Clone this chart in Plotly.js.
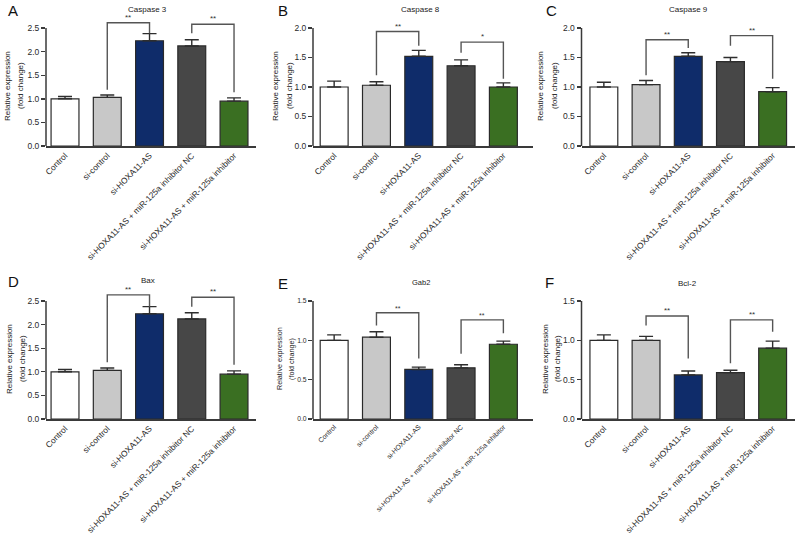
<!DOCTYPE html>
<html>
<head>
<meta charset="utf-8">
<script src="https://cdn.plot.ly/plotly-3.0.1.min.js"></script>
<style>html,body{margin:0;padding:0;background:#fff;}#chart{width:800px;height:538px;}</style>
</head>
<body>
<div id="chart"></div>
<script>
// ---------- data ----------
const categories = ['Control', 'si-control', 'si-HOXA11-AS', 'si-HOXA11-AS + miR-125a inhibitor NC', 'si-HOXA11-AS + miR-125a inhibitor'];
const barColors = ['#ffffff', '#c8c8c8', '#0f2c6a', '#474747', '#3a6f22'];
const panelLetters = ['A', 'B', 'C', 'D', 'E', 'F'];
const panelTitles = ['Caspase 3', 'Caspase 8', 'Caspase 9', 'Bax', 'Gab2', 'Bcl-2'];

const caspase3 = [1.00, 1.03, 2.23, 2.12, 0.95];
const caspase3Err = [0.05, 0.05, 0.15, 0.13, 0.07];
const caspase8 = [1.00, 1.03, 1.52, 1.36, 1.00];
const caspase8Err = [0.10, 0.06, 0.10, 0.10, 0.07];
const caspase9 = [1.00, 1.04, 1.52, 1.43, 0.92];
const caspase9Err = [0.08, 0.07, 0.06, 0.07, 0.07];
const bax = [1.00, 1.03, 2.23, 2.12, 0.95];
const baxErr = [0.05, 0.05, 0.15, 0.13, 0.07];
const gab2 = [1.00, 1.04, 0.63, 0.65, 0.95];
const gab2Err = [0.07, 0.07, 0.03, 0.04, 0.04];
const bcl2 = [1.00, 1.00, 0.56, 0.59, 0.90];
const bcl2Err = [0.07, 0.05, 0.05, 0.03, 0.09];

const yTopTicks = [2.5, 2.0, 2.0, 2.5, 1.5, 1.5];
const yTickStep = 0.5;

// brackets: [from index, to index, top, left leg bottom, right leg bottom, label]
const caspase3Brackets = [[1, 2, 2.61, 1.19, 2.39, '**'], [3, 4, 2.58, 2.39, 1.14, '**']];
const caspase8Brackets = [[1, 2, 1.94, 1.20, 1.70, '**'], [3, 4, 1.76, 1.58, 1.14, '*']];
const caspase9Brackets = [[1, 2, 1.80, 1.20, 1.66, '**'], [3, 4, 1.87, 1.70, 1.14, '**']];
const baxBrackets = [[1, 2, 2.63, 1.20, 2.38, '**'], [3, 4, 2.58, 2.38, 1.15, '**']];
const gab2Brackets = [[1, 2, 1.35, 1.19, 0.77, '**'], [3, 4, 1.26, 0.83, 1.09, '**']];
const bcl2Brackets = [[1, 2, 1.31, 1.19, 0.77, '**'], [3, 4, 1.26, 0.71, 1.11, '**']];

const seriesValues = [caspase3, caspase8, caspase9, bax, gab2, bcl2];
const seriesErrors = [caspase3Err, caspase8Err, caspase9Err, baxErr, gab2Err, bcl2Err];
const seriesBrackets = [caspase3Brackets, caspase8Brackets, caspase9Brackets, baxBrackets, gab2Brackets, bcl2Brackets];

// ---------- layout geometry (pixels in 800x538) ----------
const W = 800, H = 538;
const colX = [[46, 256], [313, 533], [581.5, 795]];
const colRange = [[-0.45, 4.52], [-0.5, 4.7], [-0.53, 4.53]];
const rowZeroPx = [146, 419];
const rowTickPx = 118;      // pixel height from 0 to top tick
const headroom = 1.12;      // extra y range above the top tick for brackets
const letterPos = [[6, 18], [276, 18], [544, 18], [6, 289], [276, 291], [543, 290]];
const titlePos = [[147, 10], [420, 9], [688, 9], [148, 280], [421, 282], [687, 283]];
const yTitlePos = [[8, 21], [276, 290], [541, 555], [9, 22], [279, 291], [545, 557]];
const smallPanel = [false, false, false, false, true, false];

const FONT = 'Liberation Sans, Arial, Helvetica, sans-serif';
const AX = '#3a3a3a';

const data = [];
const layout = {
  width: W, height: H,
  margin: {l: 0, r: 0, t: 0, b: 0},
  paper_bgcolor: '#ffffff', plot_bgcolor: 'rgba(0,0,0,0)',
  showlegend: false,
  font: {family: FONT, color: '#222', size: 8},
  shapes: [], annotations: []
};

for (let p = 0; p < 6; p++) {
  const row = Math.floor(p / 3), col = p % 3;
  const sfx = p === 0 ? '' : String(p + 1);
  const xa = 'x' + sfx, ya = 'y' + sfx;
  const T = yTopTicks[p];
  const small = smallPanel[p];
  const zeroPx = rowZeroPx[row];
  const topPx = zeroPx - rowTickPx * headroom;
  const xDom = [colX[col][0] / W, colX[col][1] / W];
  const yDom = [1 - zeroPx / H, 1 - topPx / H];

  const vals = seriesValues[p], errs = seriesErrors[p];
  data.push({
    type: 'bar', x: categories, y: vals, xaxis: xa, yaxis: ya,
    width: 0.66,
    marker: {color: barColors, line: {color: '#2a2a2a', width: 1.2}},
    error_y: {type: 'data', symmetric: false, array: errs, arrayminus: errs.map(() => 0),
              color: '#2e2e2e', thickness: 1.4, width: 7},
    hoverinfo: 'skip'
  });

  seriesBrackets[p].forEach(b => {
    const [i, j, top, lb, rb, lab] = b;
    data.push({
      type: 'scatter', mode: 'lines', xaxis: xa, yaxis: ya,
      x: [categories[i], categories[i], categories[j], categories[j]],
      y: [lb, top, top, rb],
      line: {color: '#555555', width: 1.4}, hoverinfo: 'skip'
    });
    layout.annotations.push({
      xref: xa, yref: ya, x: (i + j) / 2, y: top, yanchor: 'bottom', xanchor: 'center',
      text: lab, showarrow: false, font: {size: small ? 7 : 8, color: '#333'}, yshift: -1
    });
  });

  const tickvals = [];
  for (let v = 0; v <= T + 1e-9; v += yTickStep) tickvals.push(Math.round(v * 10) / 10);

  layout['xaxis' + sfx] = {
    domain: xDom, anchor: ya, type: 'category', range: colRange[col],
    showline: true, linecolor: AX, linewidth: 1.5, ticks: '', showgrid: false, zeroline: false,
    tickangle: -45, tickfont: {size: small ? 6.8 : 8.4, color: '#2a2a2a', family: FONT},
    fixedrange: true
  };
  layout['yaxis' + sfx] = {
    domain: yDom, anchor: xa, range: [0, T * headroom],
    showline: false, showgrid: false, zeroline: false,
    tickmode: 'array', tickvals: tickvals, tickformat: '.1f',
    ticks: 'outside', ticklen: 4, tickwidth: 1.4, tickcolor: AX,
    tickfont: {size: small ? 6.8 : 8.5, color: '#2a2a2a', family: FONT},
    fixedrange: true
  };
  // y axis line only up to the top tick
  layout.shapes.push({
    type: 'line', xref: 'paper', yref: ya, x0: xDom[0], x1: xDom[0], y0: 0, y1: T,
    line: {color: AX, width: 1.5}
  });

  layout.annotations.push({
    xref: 'paper', yref: 'paper', x: letterPos[p][0] / W, y: 1 - letterPos[p][1] / H,
    xanchor: 'left', yanchor: 'bottom', text: panelLetters[p], showarrow: false,
    font: {size: 15, color: '#111', family: FONT}, yshift: -3
  });
  layout.annotations.push({
    xref: 'paper', yref: 'paper', x: titlePos[p][0] / W, y: 1 - titlePos[p][1] / H,
    xanchor: 'center', yanchor: 'middle', text: panelTitles[p], showarrow: false,
    font: {size: small ? 7.5 : 8, color: '#222', family: FONT}
  });
  const yc = zeroPx - rowTickPx / 2 - 1;
  layout.annotations.push({
    xref: 'paper', yref: 'paper', x: yTitlePos[p][0] / W, y: 1 - yc / H,
    xanchor: 'center', yanchor: 'middle', textangle: -90, text: 'Relative expression',
    showarrow: false, font: {size: small ? 7.2 : 8, color: '#222', family: FONT}
  });
  layout.annotations.push({
    xref: 'paper', yref: 'paper', x: yTitlePos[p][1] / W, y: 1 - yc / H,
    xanchor: 'center', yanchor: 'middle', textangle: -90, text: '(fold change)',
    showarrow: false, font: {size: small ? 7.2 : 8, color: '#222', family: FONT}
  });
}

Plotly.newPlot('chart', data, layout, {displayModeBar: false, staticPlot: true});
</script>
</body>
</html>
